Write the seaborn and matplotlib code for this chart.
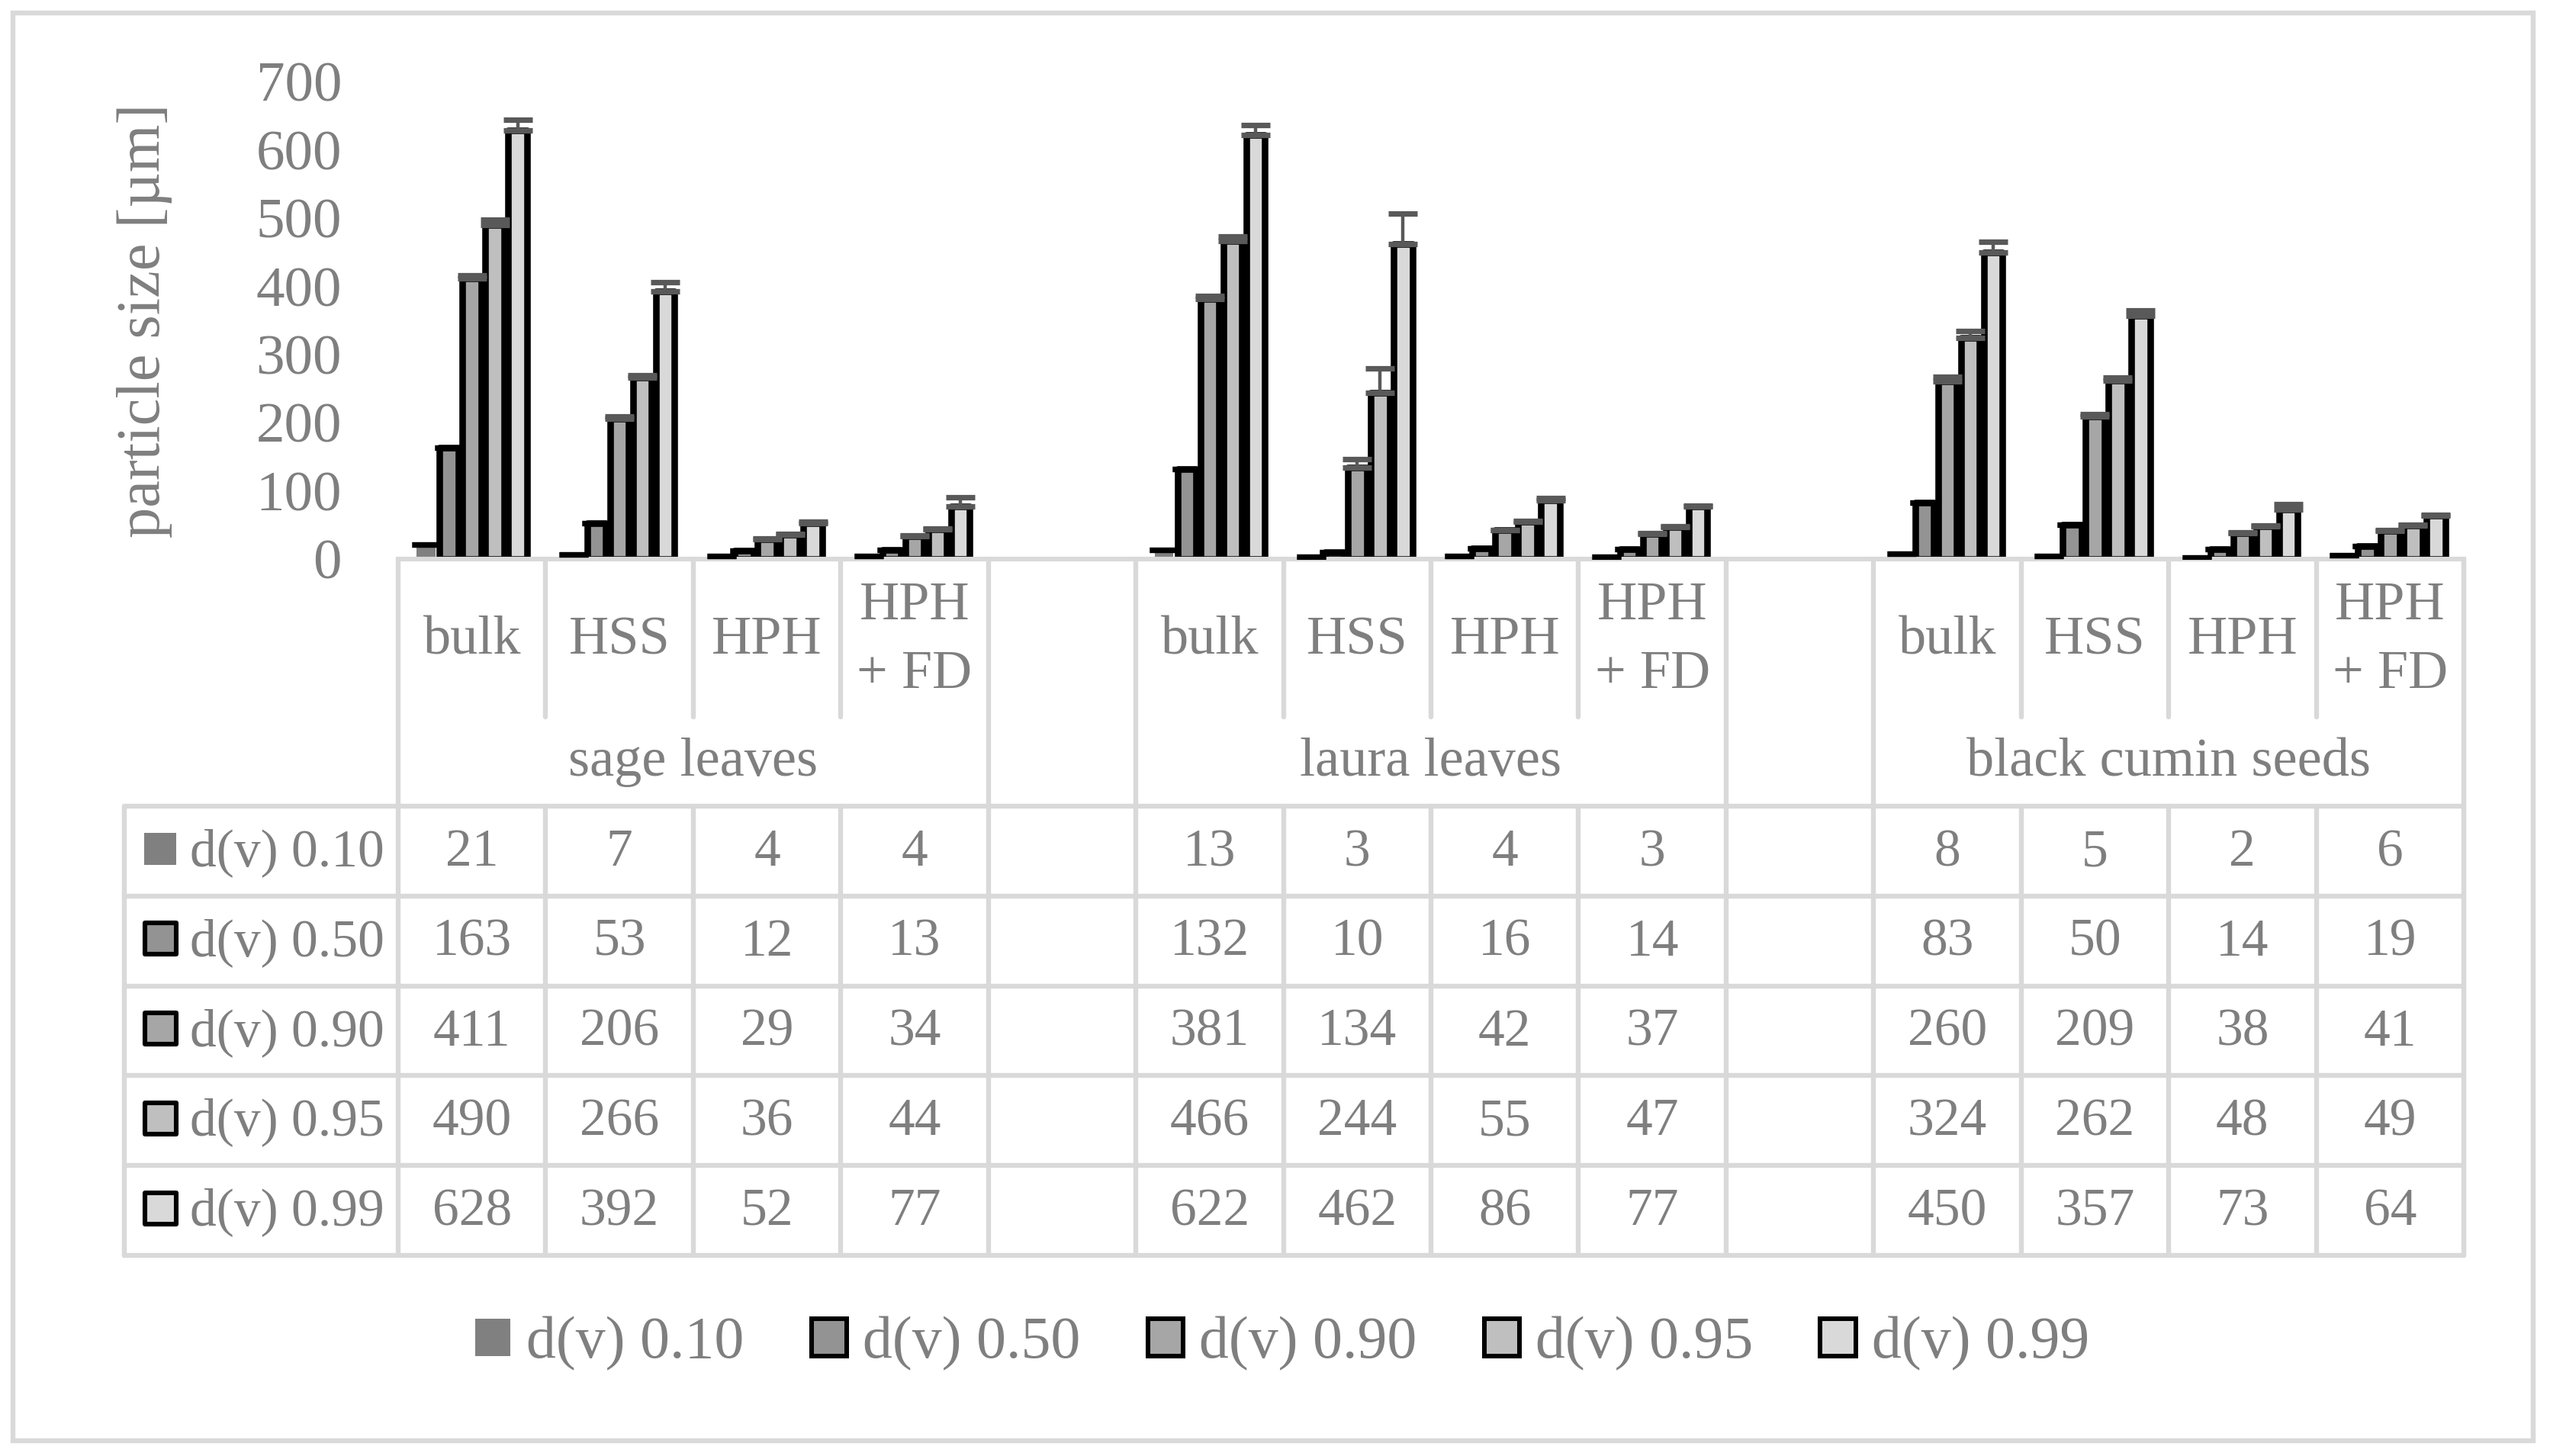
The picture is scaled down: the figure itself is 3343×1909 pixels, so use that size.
import numpy as np
import pandas as pd
import matplotlib
matplotlib.use("Agg")
import matplotlib.pyplot as plt
import matplotlib.transforms as mtransforms
from matplotlib.patches import Rectangle
from matplotlib.lines import Line2D
from matplotlib.container import BarContainer
import seaborn as sns

# ---------------- data ----------------
groups = ["sage leaves", "laura leaves", "black cumin seeds"]
group_keys = ["sage", "laura", "cumin"]
treatments = ["bulk", "HSS", "HPH", "HPH\n+ FD"]
series = ["d(v) 0.10", "d(v) 0.50", "d(v) 0.90", "d(v) 0.95", "d(v) 0.99"]

# values per series, ordered sage(bulk,HSS,HPH,HPH+FD), laura(...), cumin(...)
d10 = [21, 7, 4, 4, 13, 3, 4, 3, 8, 5, 2, 6]
d50 = [163, 53, 12, 13, 132, 10, 16, 14, 83, 50, 14, 19]
d90 = [411, 206, 29, 34, 381, 134, 42, 37, 260, 209, 38, 41]
d95 = [490, 266, 36, 44, 466, 244, 55, 47, 324, 262, 48, 49]
d99 = [628, 392, 52, 77, 622, 462, 86, 77, 450, 357, 73, 64]

# standard deviations (upper error bars)
e10 = [0, 0, 0, 0, 0, 0, 0, 0, 0, 0, 0, 0]
e50 = [0, 0, 0, 0, 0, 0, 0, 0, 0, 0, 0, 0]
e90 = [5, 3, 1, 1, 5, 13, 1, 1, 7, 3, 1, 1]
e95 = [8, 3, 1, 1, 7, 36, 1, 1, 10, 4, 1, 1]
e99 = [16, 14, 3, 14, 14, 44, 4, 1, 15, 7, 8, 1]

values = [d10, d50, d90, d95, d99]
errors = [e10, e50, e90, e95, e99]

fills = ["#808080", "#939393", "#a6a6a6", "#bfbfbf", "#d9d9d9"]
err_colors = ["#000000", "#000000", "#595959", "#595959", "#595959"]
TXT = "#7f7f7f"
GRID = "#d9d9d9"

# category order including empty spacer columns between groups
order = []
cat_keys = []
for gi, g in enumerate(group_keys):
    for t in treatments:
        order.append(f"{g}|{t}")
    if gi < len(group_keys) - 1:
        order.append(f"gap{gi}")
for g in group_keys:
    for t in treatments:
        cat_keys.append(f"{g}|{t}")

rows = []
for si, s in enumerate(series):
    for ci, c in enumerate(cat_keys):
        rows.append({"cat": c, "series": s, "value": values[si][ci],
                     "err": errors[si][ci]})
df = pd.DataFrame(rows)

# ---------------- figure ----------------
W, H = 3343, 1909
DPI = 200
sns.set_theme(style="white")
plt.rcParams["font.family"] = ["Liberation Serif", "DejaVu Serif"]
FS_TAB = 25
FS_TICK = 27
FS_HEAD = 26
FS_LEG = 28

fig = plt.figure(figsize=(W / DPI, H / DPI), dpi=DPI)
fig.patch.set_facecolor("white")

def fx(px):
    return px / W

def fy(py):
    return 1 - py / H

AX_L, AX_R, AX_T, AX_B = 522, 3230, 107, 733
ax = fig.add_axes([fx(AX_L), fy(AX_B), fx(AX_R) - fx(AX_L), fy(AX_T) - fy(AX_B)])

sns.barplot(data=df, x="cat", y="value", hue="series", order=order,
            hue_order=series, palette=fills, saturation=1, width=0.776,
            gap=0.18, errorbar=None, legend=False, ax=ax, zorder=2)

bar_conts = [c for c in ax.containers if isinstance(c, BarContainer)]

for i, cont in enumerate(bar_conts):
    for p in cont.patches:
        p.set_facecolor(fills[i])
        if i == 0:
            p.set_linewidth(0)
            p.set_edgecolor(fills[i])
        else:
            p.set_edgecolor("black")
            p.set_linewidth(3.1)
            p.set_joinstyle("round")

# error bars (plus direction only) drawn at library-computed bar positions
for i, cont in enumerate(bar_conts):
    xs, ys, es = [], [], []
    for p in cont.patches:
        xc = p.get_x() + p.get_width() / 2
        key = order[int(round(xc))]
        row = df[(df["cat"] == key) & (df["series"] == series[i])]
        xs.append(xc)
        ys.append(p.get_height())
        es.append(float(row["err"].iloc[0]))
    ax.errorbar(xs, ys, yerr=[np.zeros(len(es)), es], fmt="none",
                ecolor=err_colors[i], elinewidth=1.6, capsize=6.7,
                capthick=2.6, zorder=4)

ax.set_xlim(-0.5, len(order) - 0.5)
ax.set_ylim(0, 700)
ax.set_yticks(np.arange(0, 701, 100))
ax.set_xticks([])
ax.set_xlabel("")
ax.tick_params(axis="y", length=0, pad=26.6, labelsize=FS_TICK,
               labelcolor=TXT)
for sp in ["top", "right", "left"]:
    ax.spines[sp].set_visible(False)
ax.spines["bottom"].set_color(GRID)
ax.spines["bottom"].set_linewidth(2.2)
ax.spines["bottom"].set_zorder(3)
ax.set_facecolor("white")
ax.grid(False)

ax.set_ylabel("particle size [µm]", fontsize=29, color=TXT)
ax.yaxis.label.set_verticalalignment("center")
ax.yaxis.set_label_coords((190 - AX_L) / (AX_R - AX_L), 0.5)

# ---------------- category header + data table ----------------
bt = mtransforms.blended_transform_factory(ax.transData, fig.transFigure)
LW = 2.3

def vline(xd, y0, y1):
    fig.add_artist(Line2D([xd, xd], [fy(y0), fy(y1)], transform=bt,
                          color=GRID, lw=LW, clip_on=False, zorder=1))

group_bounds = set()
for gi, g in enumerate(group_keys):
    first = order.index(f"{g}|{treatments[0]}")
    group_bounds.add(first)
    group_bounds.add(first + len(treatments))

SUB_Y, GRP_Y, TAB_T = 940, 1057, 1057
ROW_H = 117.8
TAB_B = TAB_T + ROW_H * len(series)
TAB_L = 163

for k in range(len(order) + 1):
    xd = k - 0.5
    if k in group_bounds:
        vline(xd, AX_B, GRP_Y)
    else:
        vline(xd, AX_B, SUB_Y)
    vline(xd, TAB_T, TAB_B)

fig.add_artist(Line2D([fx(TAB_L), fx(TAB_L)], [fy(TAB_T), fy(TAB_B)],
                      transform=fig.transFigure, color=GRID, lw=LW, zorder=1))
for r in range(len(series) + 1):
    yy = fy(TAB_T + r * ROW_H)
    fig.add_artist(Line2D([fx(TAB_L), fx(AX_R)], [yy, yy],
                          transform=fig.transFigure, color=GRID, lw=LW,
                          zorder=1))

# subcategory and group labels
LINE_STEP = 90
for gi, g in enumerate(group_keys):
    idxs = [order.index(f"{g}|{t}") for t in treatments]
    for t, xi in zip(treatments, idxs):
        parts = t.split("\n")
        n = len(parts)
        for li, part in enumerate(parts):
            base = 857 + (li - (n - 1) / 2) * LINE_STEP
            fig.text(xi, fy(base), part, transform=bt, ha="center",
                     va="baseline", fontsize=FS_HEAD, color=TXT)
    fig.text(np.mean(idxs), fy(1017), groups[gi], transform=bt, ha="center",
             va="baseline", fontsize=FS_HEAD, color=TXT)

# data table values
for si, s in enumerate(series):
    row_top = TAB_T + si * ROW_H
    yb = fy(row_top + 78)
    for ci, c in enumerate(cat_keys):
        xi = order.index(c)
        fig.text(xi, yb, str(values[si][ci]), transform=bt, ha="center",
                 va="baseline", fontsize=FS_TAB, color=TXT)
    # legend key + label
    kc_y = row_top + 56
    if si == 0:
        sz = 42
        rect = Rectangle((fx(189), fy(kc_y + sz / 2)), fx(sz), sz / H,
                         transform=fig.transFigure, facecolor=fills[si],
                         edgecolor="none", zorder=2)
    else:
        sz = 41
        rect = Rectangle((fx(190), fy(kc_y + sz / 2)), fx(sz), sz / H,
                         transform=fig.transFigure, facecolor=fills[si],
                         edgecolor="black", lw=2.2, joinstyle="round",
                         zorder=2)
    fig.add_artist(rect)
    fig.text(fx(249), yb, s, ha="left", va="baseline", fontsize=FS_TAB,
             color=TXT)

# ---------------- bottom legend ----------------
leg = fig.legend(handles=bar_conts, labels=series, loc="center",
                 bbox_to_anchor=(fx(1681), fy(1762)), ncol=5, frameon=False,
                 fontsize=FS_LEG, handlelength=0.6, handleheight=0.6,
                 handletextpad=0.27, columnspacing=1.13, labelcolor=TXT)
for hp in leg.legend_handles:
    try:
        hp.set_linewidth(hp.get_linewidth() * 0.7)
    except Exception:
        pass

# outer chart border
fig.add_artist(Rectangle((fx(17), fy(1889)), fx(3321 - 17), (1889 - 17) / H,
                         transform=fig.transFigure, fill=False,
                         edgecolor=GRID, lw=LW, zorder=0))

fig.savefig("out.png", dpi=DPI, facecolor="white")
